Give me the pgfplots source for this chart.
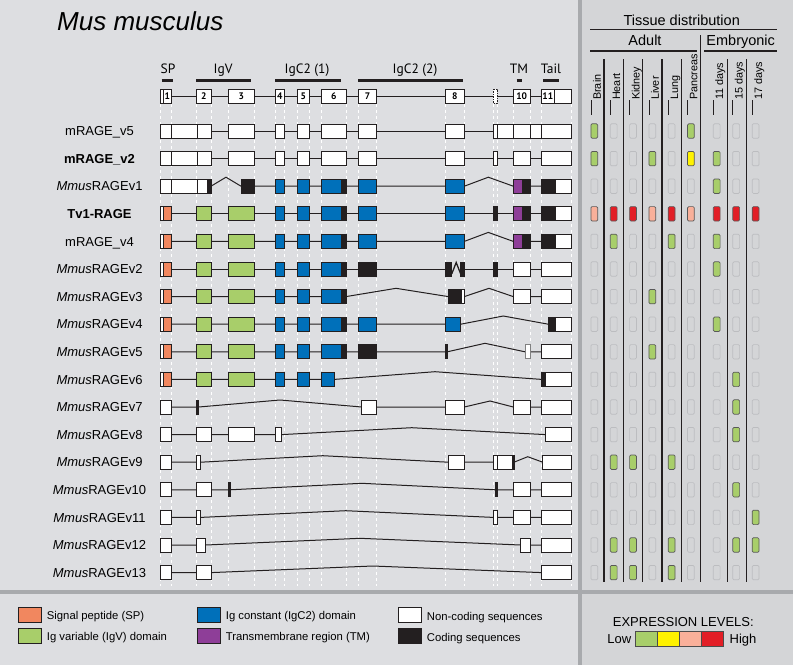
\documentclass[border=0pt]{standalone}
\usepackage{pgfplots}
\pgfplotsset{compat=1.18}
\usepackage{fontspec}
\setmainfont{Liberation Sans}
\newfontfamily\pts{PT Sans}

\definecolor{lp}{RGB}{221,222,225}
\definecolor{rp}{RGB}{212,213,215}
\definecolor{sepc}{RGB}{168,170,173}
\definecolor{cOr}{RGB}{241,135,95}
\definecolor{cGr}{RGB}{168,206,106}
\definecolor{cBl}{RGB}{0,112,186}
\definecolor{cPu}{RGB}{142,62,152}
\definecolor{cBk}{RGB}{35,31,32}
\definecolor{cYe}{RGB}{255,242,0}
\definecolor{cSa}{RGB}{249,176,154}
\definecolor{cRe}{RGB}{226,30,38}
\definecolor{cellgray}{RGB}{188,189,192}

\tikzset{
 lvE/.style={draw=cellgray,fill=none,line width=0.7pt},
 lvG/.style={draw=black!65,fill=cGr,line width=0.7pt},
 lvY/.style={draw=black!65,fill=cYe,line width=0.7pt},
 lvS/.style={draw=black!65,fill=cSa,line width=0.7pt},
 lvR/.style={draw=black!65,fill=cRe,line width=0.7pt},
}

% exon box: [outline]{x1}{x2}{row centre}{fill}
\newcommand{\bx}[5][cBk]{%
 \pgfmathsetmacro\yt{#4-7}\pgfmathsetmacro\yb{#4+7}%
 \edef\tmp{\noexpand\addplot[draw=#1,fill=#5,line width=1pt] coordinates {(#2,\yt)(#3,\yt)(#3,\yb)(#2,\yb)} --cycle;}\tmp}

% rectangle: {x1}{x2}{y1}{y2}{options}
\newcommand{\rc}[5]{\addplot[#5] coordinates {(#1,#3)(#2,#3)(#2,#4)(#1,#4)} --cycle;}

% expression cells of one row
\newcommand{\cellrow}[2]{%
 \foreach \cc [count=\k from 0] in {#2} {%
  \pgfmathsetmacro\xc{{594.3,613.7,633,652.3,671.6,690.9,716.7,736.2,755.6}[\k]}%
  \pgfmathsetmacro\xa{\xc-3.4}\pgfmathsetmacro\xb{\xc+3.4}%
  \pgfmathsetmacro\ya{#1-7.2}\pgfmathsetmacro\yb{#1+7.2}%
  \edef\tmp{\noexpand\addplot[\cc,rounded corners=1.2pt] coordinates {(\xa,\ya)(\xb,\ya)(\xb,\yb)(\xa,\yb)} --cycle;}\tmp
 }}

\newcommand{\rl}[2]{\node[anchor=base,inner sep=0,font=\fontsize{13}{15}\selectfont] at (axis cs:99.5,#1) {#2};}
\newcommand{\vl}[2]{\node[rotate=90,anchor=base west,inner sep=0,font=\fontsize{10.8}{13}\selectfont] at (axis cs:#1,100) {#2};}

\begin{document}
\begin{tikzpicture}
\begin{axis}[width=793pt,height=665pt,scale only axis,
 xmin=0,xmax=793,ymin=0,ymax=665,y dir=reverse,hide axis,clip=false]

% ---------- backgrounds ----------
\rc{0}{578}{0}{590}{fill=lp,draw=none}
\rc{582}{793}{0}{590}{fill=rp,draw=none}
\rc{0}{578}{594}{665}{fill=lp,draw=none}
\rc{582}{793}{594}{665}{fill=rp,draw=none}
\rc{578}{582}{0}{665}{fill=sepc,draw=none}
\rc{0}{793}{590}{594}{fill=sepc,draw=none}

% ---------- dashed guide lines ----------
\pgfplotsinvokeforeach{160,171,196.7,211,228.3,254.3,275.3,284.3,297.7,309,321.5,346,358.3,376.7,445.3,464.3,493.3,497.3,513.3,530,541.7,571.7}{
 \addplot[white,line width=0.8pt,dash pattern=on 3pt off 3pt] coordinates {(#1,104)(#1,586)};
}

% ---------- title ----------
\node[anchor=base west,inner sep=0,font=\fontsize{26}{30}\selectfont\itshape] at (axis cs:57,30) {Mus musculus};

% ---------- domain labels and bars ----------
\node[anchor=base,inner sep=0,font=\pts\fontsize{13.5}{15}\selectfont] at (axis cs:168,73.3) {SP};
\node[anchor=base,inner sep=0,font=\pts\fontsize{13.5}{15}\selectfont] at (axis cs:223,73.3) {IgV};
\node[anchor=base,inner sep=0,font=\pts\fontsize{13.5}{15}\selectfont] at (axis cs:307,73.3) {IgC2 (1)};
\node[anchor=base,inner sep=0,font=\pts\fontsize{13.5}{15}\selectfont] at (axis cs:415,73.3) {IgC2 (2)};
\node[anchor=base,inner sep=0,font=\pts\fontsize{13.5}{15}\selectfont] at (axis cs:519,73.3) {TM};
\node[anchor=base,inner sep=0,font=\pts\fontsize{13.5}{15}\selectfont] at (axis cs:551,73.3) {Tail};
\addplot[cBk,line width=3pt] coordinates {(161.7,80.5)(173.3,80.5)};
\addplot[cBk,line width=3pt] coordinates {(196,80.5)(251,80.5)};
\addplot[cBk,line width=3pt] coordinates {(275,80.5)(340.7,80.5)};
\addplot[cBk,line width=3pt] coordinates {(358.3,80.5)(463.3,80.5)};
\addplot[cBk,line width=3pt] coordinates {(516.7,80.5)(521.7,80.5)};
\addplot[cBk,line width=3pt] coordinates {(543.3,80.5)(559.3,80.5)};

% ---------- reference row ----------
\addplot[cBk,line width=1pt] coordinates {(160,96)(571.7,96)};
\bx{160}{163.3}{96}{white}\bx{163.3}{171}{96}{white}
\bx{196.7}{211}{96}{white}\bx{228.3}{254.3}{96}{white}
\bx{275.3}{284.3}{96}{white}\bx{297.7}{309}{96}{white}
\bx{321.5}{346}{96}{white}\bx{358.3}{376.7}{96}{white}
\bx{445.3}{464.3}{96}{white}
\addplot[draw=cBk,fill=white,line width=0.8pt,dash pattern=on 1.5pt off 1pt] coordinates {(493.3,89)(497.3,89)(497.3,103)(493.3,103)} --cycle;
\bx{513.3}{530}{96}{white}\bx{541.7}{554}{96}{white}\bx{554}{571.7}{96}{white}
\node[anchor=base,inner sep=0,font=\pts\bfseries\fontsize{9.5}{10}\selectfont] at (axis cs:167.2,99.8) {1};
\node[anchor=base,inner sep=0,font=\pts\bfseries\fontsize{9.5}{10}\selectfont] at (axis cs:203.8,99.8) {2};
\node[anchor=base,inner sep=0,font=\pts\bfseries\fontsize{9.5}{10}\selectfont] at (axis cs:241.3,99.8) {3};
\node[anchor=base,inner sep=0,font=\pts\bfseries\fontsize{9.5}{10}\selectfont] at (axis cs:279.8,99.8) {4};
\node[anchor=base,inner sep=0,font=\pts\bfseries\fontsize{9.5}{10}\selectfont] at (axis cs:303.3,99.8) {5};
\node[anchor=base,inner sep=0,font=\pts\bfseries\fontsize{9.5}{10}\selectfont] at (axis cs:333.7,99.8) {6};
\node[anchor=base,inner sep=0,font=\pts\bfseries\fontsize{9.5}{10}\selectfont] at (axis cs:367.5,99.8) {7};
\node[anchor=base,inner sep=0,font=\pts\bfseries\fontsize{9.5}{10}\selectfont] at (axis cs:454.8,99.8) {8};
\node[anchor=base,inner sep=0,font=\pts\bfseries\fontsize{9.5}{10}\selectfont] at (axis cs:521.7,99.8) {10};
\node[anchor=base,inner sep=0,font=\pts\bfseries\fontsize{9.5}{10}\selectfont] at (axis cs:547.8,99.8) {11};

% ---------- row 0: mRAGE_v5 ----------
\addplot[cBk,line width=1pt] coordinates {(160,131)(571.7,131)};
\bx{160}{171}{131}{white}\bx{171}{197.3}{131}{white}\bx{197.3}{211}{131}{white}
\bx{228.3}{254.3}{131}{white}\bx{275.3}{284.3}{131}{white}\bx{297.7}{309}{131}{white}
\bx{321.5}{346}{131}{white}\bx{358.3}{376.7}{131}{white}\bx{445.3}{464.3}{131}{white}
\bx{493.3}{497.3}{131}{white}\bx{497.3}{513.3}{131}{white}\bx{513.3}{530}{131}{white}
\bx{530}{541.7}{131}{white}\bx{541.7}{571.7}{131}{white}

% ---------- row 1: mRAGE_v2 ----------
\addplot[cBk,line width=1pt] coordinates {(160,158.6)(571.7,158.6)};
\bx{160}{171}{158.6}{white}\bx{171}{197.3}{158.6}{white}\bx{197.3}{211}{158.6}{white}
\bx{228.3}{254.3}{158.6}{white}\bx{275.3}{284.3}{158.6}{white}\bx{297.7}{309}{158.6}{white}
\bx{321.5}{346}{158.6}{white}\bx{358.3}{376.7}{158.6}{white}\bx{445.3}{464.3}{158.6}{white}
\bx{493.3}{497.3}{158.6}{white}\bx{513.3}{530}{158.6}{white}\bx{541.7}{571.7}{158.6}{white}

% ---------- row 2: MmusRAGEv1 ----------
\addplot[cBk,line width=1pt] coordinates {(160,186.2)(211,186.2)(226,177.2)(241,186.2)(464.3,186.2)(488.3,177.2)(513.3,186.2)(571.7,186.2)};
\bx{160}{171}{186.2}{white}\bx{171}{197.3}{186.2}{white}\bx{197.3}{207.3}{186.2}{white}\bx{207.3}{211}{186.2}{cBk}
\bx{241}{254.3}{186.2}{cBk}
\bx{275.3}{284.3}{186.2}{cBl}\bx{297.7}{309}{186.2}{cBl}
\bx{321.5}{341.5}{186.2}{cBl}\bx{341.5}{346}{186.2}{cBk}
\bx{358.3}{376.7}{186.2}{cBl}\bx{445.3}{464.3}{186.2}{cBl}
\bx{513.3}{522.3}{186.2}{cPu}\bx{522.3}{530}{186.2}{cBk}
\bx{541.7}{555}{186.2}{cBk}\bx{555}{571.7}{186.2}{white}

% ---------- row 3: Tv1-RAGE ----------
\addplot[cBk,line width=1pt] coordinates {(160,213.8)(571.7,213.8)};
\bx{160}{163.3}{213.8}{white}\bx{163.3}{171}{213.8}{cOr}
\bx{196.7}{211}{213.8}{cGr}\bx{228.3}{254.3}{213.8}{cGr}
\bx{275.3}{284.3}{213.8}{cBl}\bx{297.7}{309}{213.8}{cBl}
\bx{321.5}{341.5}{213.8}{cBl}\bx{341.5}{346}{213.8}{cBk}
\bx{358.3}{376.7}{213.8}{cBl}\bx{445.3}{464.3}{213.8}{cBl}
\bx{493.3}{497.3}{213.8}{cBk}
\bx{513.3}{522.3}{213.8}{cPu}\bx{522.3}{530}{213.8}{cBk}
\bx{541.7}{555}{213.8}{cBk}\bx{555}{571.7}{213.8}{white}

% ---------- row 4: mRAGE_v4 ----------
\addplot[cBk,line width=1pt] coordinates {(160,241.4)(464.3,241.4)(488.3,232.4)(513.3,241.4)(571.7,241.4)};
\bx{160}{163.3}{241.4}{white}\bx{163.3}{171}{241.4}{cOr}
\bx{196.7}{211}{241.4}{cGr}\bx{228.3}{254.3}{241.4}{cGr}
\bx{275.3}{284.3}{241.4}{cBl}\bx{297.7}{309}{241.4}{cBl}
\bx{321.5}{341.5}{241.4}{cBl}\bx{341.5}{346}{241.4}{cBk}
\bx{358.3}{376.7}{241.4}{cBl}\bx{445.3}{464.3}{241.4}{cBl}
\bx{513.3}{522.3}{241.4}{cPu}\bx{522.3}{530}{241.4}{cBk}
\bx{541.7}{555}{241.4}{cBk}\bx{555}{571.7}{241.4}{white}

% ---------- row 5: MmusRAGEv2 ----------
\addplot[cBk,line width=1pt] coordinates {(160,269)(445.3,269)};
\addplot[cBk,line width=1pt] coordinates {(464.3,269)(571.7,269)};
\bx{160}{163.3}{269}{white}\bx{163.3}{171}{269}{cOr}
\bx{196.7}{211}{269}{cGr}\bx{228.3}{254.3}{269}{cGr}
\bx{275.3}{284.3}{269}{cBl}\bx{297.7}{309}{269}{cBl}
\bx{321.5}{341.5}{269}{cBl}\bx{341.5}{346}{269}{cBk}
\bx{358.3}{376.7}{269}{cBk}
\bx{445.3}{451.7}{269}{cBk}\bx{460.7}{464.3}{269}{cBk}
\addplot[cBk,line width=1.3pt] coordinates {(451.7,274)(456.2,262.5)(460.7,274)};
\bx{493.3}{497.3}{269}{cBk}
\bx{513.3}{530}{269}{white}\bx{541.7}{571.7}{269}{white}

% ---------- row 6: MmusRAGEv3 ----------
\addplot[cBk,line width=1pt] coordinates {(160,296.6)(346,296.6)(396,288.3)(448.3,296.6)(464.3,296.6)(489,288.3)(513.3,296.6)(571.7,296.6)};
\bx{160}{163.3}{296.6}{white}\bx{163.3}{171}{296.6}{cOr}
\bx{196.7}{211}{296.6}{cGr}\bx{228.3}{254.3}{296.6}{cGr}
\bx{275.3}{284.3}{296.6}{cBl}\bx{297.7}{309}{296.6}{cBl}
\bx{321.5}{341.5}{296.6}{cBl}\bx{341.5}{346}{296.6}{cBk}
\bx{448.3}{461}{296.6}{cBk}\bx{461}{464.3}{296.6}{white}
\bx{513.3}{530}{296.6}{white}\bx{541.7}{571.7}{296.6}{white}

% ---------- row 7: MmusRAGEv4 ----------
\addplot[cBk,line width=1pt] coordinates {(160,324.2)(460.7,324.2)(503.3,316)(548.3,324.2)(571.7,324.2)};
\bx{160}{163.3}{324.2}{white}\bx{163.3}{171}{324.2}{cOr}
\bx{196.7}{211}{324.2}{cGr}\bx{228.3}{254.3}{324.2}{cGr}
\bx{275.3}{284.3}{324.2}{cBl}\bx{297.7}{309}{324.2}{cBl}
\bx{321.5}{341.5}{324.2}{cBl}\bx{341.5}{346}{324.2}{cBk}
\bx{358.3}{376.7}{324.2}{cBl}\bx{445.3}{460.7}{324.2}{cBl}
\bx{548.3}{555}{324.2}{cBk}\bx{555}{571.7}{324.2}{white}

% ---------- row 8: MmusRAGEv5 ----------
\addplot[cBk,line width=1pt] coordinates {(160,351.8)(447.3,351.8)(485,343.3)(525,351.8)(571.7,351.8)};
\bx{160}{163.3}{351.8}{white}\bx{163.3}{171}{351.8}{cOr}
\bx{196.7}{211}{351.8}{cGr}\bx{228.3}{254.3}{351.8}{cGr}
\bx{275.3}{284.3}{351.8}{cBl}\bx{297.7}{309}{351.8}{cBl}
\bx{321.5}{341.5}{351.8}{cBl}\bx{341.5}{346}{351.8}{cBk}
\bx{358.3}{376.7}{351.8}{cBk}\bx{445.3}{447.3}{351.8}{cBk}
\bx[black!50]{525}{530}{351.8}{white}\bx{541.7}{571.7}{351.8}{white}

% ---------- row 9: MmusRAGEv6 ----------
\addplot[cBk,line width=1pt] coordinates {(160,379.4)(334.3,379.4)(435,371.7)(541.7,379.4)(571.7,379.4)};
\bx{160}{163.3}{379.4}{white}\bx{163.3}{171}{379.4}{cOr}
\bx{196.7}{211}{379.4}{cGr}\bx{228.3}{254.3}{379.4}{cGr}
\bx{275.3}{284.3}{379.4}{cBl}\bx{297.7}{309}{379.4}{cBl}
\bx{321.5}{334.3}{379.4}{cBl}
\bx{541.7}{545}{379.4}{cBk}\bx{545}{571.7}{379.4}{white}

% ---------- row 10: MmusRAGEv7 ----------
\addplot[cBk,line width=1pt] coordinates {(160,407)(198.7,407)(280,400)(361.7,407)(464.3,407)(490,401)(513.3,407)(571.7,407)};
\bx{160}{171}{407}{white}\bx{196.7}{198.7}{407}{cBk}
\bx{361.7}{376.7}{407}{white}\bx{445.3}{464.3}{407}{white}
\bx{513.3}{530}{407}{white}\bx{541.7}{571.7}{407}{white}

% ---------- row 11: MmusRAGEv8 ----------
\addplot[cBk,line width=1pt] coordinates {(160,434.6)(281.7,434.6)(411.7,427.7)(545.7,434.6)(571.7,434.6)};
\bx{160}{171}{434.6}{white}\bx{196.7}{211}{434.6}{white}
\bx{228.3}{254.3}{434.6}{white}\bx{275.7}{281.7}{434.6}{white}
\bx{545.7}{571.7}{434.6}{white}

% ---------- row 12: MmusRAGEv9 ----------
\addplot[cBk,line width=1pt] coordinates {(160,462.2)(200.7,462.2)(322.7,455.7)(448.3,462.2)(514,462.2)(527.7,456.7)(542.7,462.2)(571.7,462.2)};
\bx{160}{171}{462.2}{white}\bx{196.7}{200.7}{462.2}{white}
\bx{448.3}{464.3}{462.2}{white}
\bx{493.3}{497.3}{462.2}{white}\bx{497.3}{512.7}{462.2}{white}\bx{512.7}{514}{462.2}{cBk}
\bx{542.7}{571.7}{462.2}{white}

% ---------- row 13: MmusRAGEv10 ----------
\addplot[cBk,line width=1pt] coordinates {(160,489.8)(230,489.8)(361.7,483.3)(495.7,489.8)(571.7,489.8)};
\bx{160}{171}{489.8}{white}\bx{196.7}{211}{489.8}{white}
\bx{228.3}{230}{489.8}{cBk}\bx{495.7}{497.3}{489.8}{cBk}
\bx{513.3}{530}{489.8}{white}\bx{541.7}{571.7}{489.8}{white}

% ---------- row 14: MmusRAGEv11 ----------
\addplot[cBk,line width=1pt] coordinates {(160,517.4)(200.7,517.4)(345.7,510.7)(493.3,517.4)(571.7,517.4)};
\bx{160}{171}{517.4}{white}\bx{196.7}{200.7}{517.4}{white}
\bx{493.3}{497.3}{517.4}{white}
\bx{513.3}{530}{517.4}{white}\bx{541.7}{571.7}{517.4}{white}

% ---------- row 15: MmusRAGEv12 ----------
\addplot[cBk,line width=1pt] coordinates {(160,545)(205.7,545)(360,538.3)(520.7,545)(571.7,545)};
\bx{160}{171}{545}{white}\bx{196.7}{205.7}{545}{white}
\bx{520.7}{530}{545}{white}\bx{541.7}{571.7}{545}{white}

% ---------- row 16: MmusRAGEv13 ----------
\addplot[cBk,line width=1pt] coordinates {(160,572.6)(211,572.6)(372.7,566)(541.7,572.6)(571.7,572.6)};
\bx{160}{171}{572.6}{white}\bx{196.7}{211}{572.6}{white}
\bx{541.7}{571.7}{572.6}{white}

% ---------- row labels ----------
\rl{135.6}{mRAGE\_v5}
\rl{163.2}{\bfseries mRAGE\_v2}
\rl{190.8}{\textit{Mmus}RAGEv1}
\rl{218.4}{\bfseries Tv1-RAGE}
\rl{246.0}{mRAGE\_v4}
\rl{273.6}{\textit{Mmus}RAGEv2}
\rl{301.2}{\textit{Mmus}RAGEv3}
\rl{328.8}{\textit{Mmus}RAGEv4}
\rl{356.4}{\textit{Mmus}RAGEv5}
\rl{384.0}{\textit{Mmus}RAGEv6}
\rl{411.6}{\textit{Mmus}RAGEv7}
\rl{439.2}{\textit{Mmus}RAGEv8}
\rl{466.8}{\textit{Mmus}RAGEv9}
\rl{494.4}{\textit{Mmus}RAGEv10}
\rl{522.0}{\textit{Mmus}RAGEv11}
\rl{549.6}{\textit{Mmus}RAGEv12}
\rl{577.2}{\textit{Mmus}RAGEv13}

% ---------- right panel header ----------
\node[anchor=base,inner sep=0,font=\fontsize{14.5}{16}\selectfont] at (axis cs:681.7,25) {Tissue distribution};
\node[anchor=base,inner sep=0,font=\fontsize{14.5}{16}\selectfont] at (axis cs:645,45.7) {Adult};
\node[anchor=base,inner sep=0,font=\fontsize{14.5}{16}\selectfont] at (axis cs:740.7,45.7) {Embryonic};
\addplot[cBk,line width=1.3pt] coordinates {(590,29.3)(776.7,29.3)};
\addplot[cBk,line width=1.3pt] coordinates {(590,51)(697.3,51)};
\addplot[cBk,line width=1.3pt] coordinates {(704,51)(777.3,51)};
\pgfplotsinvokeforeach{604,623.3,642.7,662,681.3,727.3,746.7}{
 \addplot[cBk,line width=1.1pt] coordinates {(#1,59.3)(#1,581.7)};
}
\addplot[cBk,line width=1.1pt] coordinates {(700.7,35)(700.7,581.7)};
\vl{600.8}{Brain}
\vl{620.2}{Heart}
\vl{639.5}{Kidney}
\vl{658.8}{Liver}
\vl{678.1}{Lung}
\vl{697.4}{Pancreas}
\vl{723.2}{11 days}
\vl{742.7}{15 days}
\vl{762.1}{17 days}
\pgfplotsinvokeforeach{591,610.4,629.7,649,668.3,687.6,713.4,732.9,752.3}{
 \addplot[cBk,line width=0.9pt] coordinates {(#1,100)(#1,115)};
}

% ---------- expression cells ----------
\cellrow{131.0}{lvG,lvE,lvE,lvE,lvE,lvG,lvE,lvE,lvE}
\cellrow{158.6}{lvG,lvE,lvE,lvG,lvE,lvY,lvG,lvE,lvE}
\cellrow{186.2}{lvE,lvE,lvE,lvE,lvE,lvE,lvG,lvE,lvE}
\cellrow{213.8}{lvS,lvR,lvR,lvS,lvR,lvS,lvR,lvR,lvR}
\cellrow{241.4}{lvE,lvG,lvE,lvE,lvG,lvE,lvG,lvE,lvE}
\cellrow{269.0}{lvE,lvE,lvE,lvE,lvE,lvE,lvG,lvE,lvE}
\cellrow{296.6}{lvE,lvE,lvE,lvG,lvE,lvE,lvE,lvE,lvE}
\cellrow{324.2}{lvE,lvE,lvE,lvE,lvE,lvE,lvG,lvE,lvE}
\cellrow{351.8}{lvE,lvE,lvE,lvG,lvE,lvE,lvE,lvE,lvE}
\cellrow{379.4}{lvE,lvE,lvE,lvE,lvE,lvE,lvE,lvG,lvE}
\cellrow{407.0}{lvE,lvE,lvE,lvE,lvE,lvE,lvE,lvG,lvE}
\cellrow{434.6}{lvE,lvE,lvE,lvE,lvE,lvE,lvE,lvG,lvE}
\cellrow{462.2}{lvE,lvG,lvG,lvE,lvG,lvE,lvE,lvE,lvE}
\cellrow{489.8}{lvE,lvE,lvE,lvE,lvE,lvE,lvE,lvG,lvE}
\cellrow{517.4}{lvE,lvE,lvE,lvE,lvE,lvE,lvE,lvE,lvG}
\cellrow{545.0}{lvE,lvG,lvG,lvE,lvG,lvE,lvE,lvG,lvG}
\cellrow{572.6}{lvE,lvG,lvG,lvE,lvG,lvE,lvE,lvE,lvE}

% ---------- legend ----------
\rc{18.3}{41}{607.3}{622.3}{fill=cOr,draw=cBk,line width=1pt}
\rc{18.3}{41}{628.3}{643.3}{fill=cGr,draw=cBk,line width=1pt}
\rc{197.3}{220}{607.3}{622.3}{fill=cBl,draw=cBk,line width=1pt}
\rc{197.3}{220}{628.3}{643.3}{fill=cPu,draw=cBk,line width=1pt}
\rc{398.3}{421.7}{607.3}{622.3}{fill=white,draw=cBk,line width=1pt}
\rc{398.3}{421.7}{628.3}{643.3}{fill=cBk,draw=cBk,line width=1pt}
\node[anchor=base west,inner sep=0,font=\fontsize{11.3}{13}\selectfont] at (axis cs:46.7,619.3) {Signal peptide (SP)};
\node[anchor=base west,inner sep=0,font=\fontsize{11.3}{13}\selectfont] at (axis cs:46.7,640.5) {Ig variable (IgV) domain};
\node[anchor=base west,inner sep=0,font=\fontsize{11.3}{13}\selectfont] at (axis cs:225.7,619.3) {Ig constant (IgC2) domain};
\node[anchor=base west,inner sep=0,font=\fontsize{11.3}{13}\selectfont] at (axis cs:225.7,640.5) {Transmembrane region (TM)};
\node[anchor=base west,inner sep=0,font=\fontsize{11.3}{13}\selectfont] at (axis cs:426.7,620.3) {Non-coding sequences};
\node[anchor=base west,inner sep=0,font=\fontsize{11.3}{13}\selectfont] at (axis cs:426.7,641.3) {Coding sequences};

\node[anchor=base,inner sep=0,font=\fontsize{13}{15}\selectfont] at (axis cs:683.3,626.7) {EXPRESSION LEVELS:};
\rc{635}{657}{631.7}{646.7}{fill=cGr,draw=black!70,line width=0.8pt}
\rc{657}{679}{631.7}{646.7}{fill=cYe,draw=black!70,line width=0.8pt}
\rc{679}{701}{631.7}{646.7}{fill=cSa,draw=black!70,line width=0.8pt}
\rc{701}{723.3}{631.7}{646.7}{fill=cRe,draw=black!70,line width=0.8pt}
\node[anchor=base east,inner sep=0,font=\fontsize{13}{15}\selectfont] at (axis cs:631.5,643.3) {Low};
\node[anchor=base west,inner sep=0,font=\fontsize{13}{15}\selectfont] at (axis cs:729.5,643.3) {High};

\end{axis}
\end{tikzpicture}
\end{document}
